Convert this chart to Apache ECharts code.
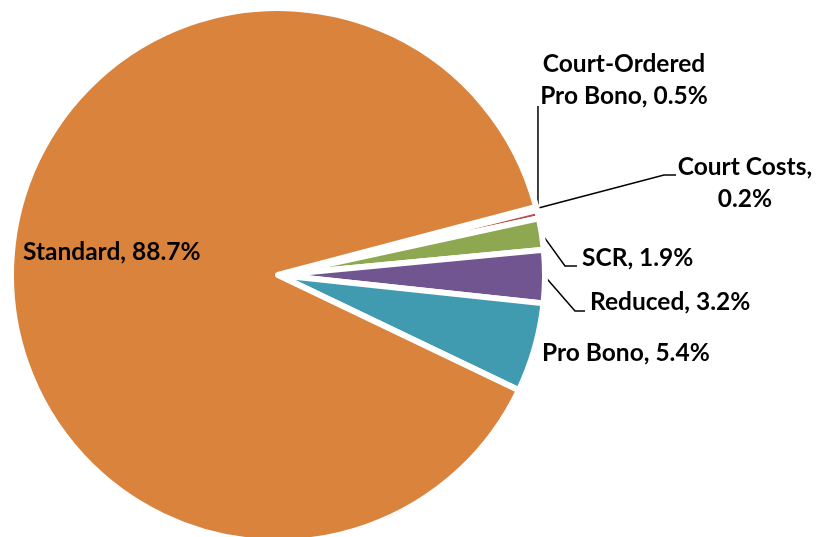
<!DOCTYPE html>
<html>
<head>
<meta charset="utf-8">
<script src="https://cdn.jsdelivr.net/npm/echarts@6/dist/echarts.min.js"></script>
<style>
  html, body { margin: 0; padding: 0; background: #fff; }
  #chart { width: 818px; height: 537px; }
</style>
</head>
<body>
<div id="chart"></div>
<script>
// slices in sheet order, clockwise from the upper edge of the gap
const categories = ['Court Costs', 'Court-Ordered Pro Bono', 'SCR', 'Reduced', 'Pro Bono', 'Standard']
const shares = [0.2, 0.5, 1.9, 3.2, 5.4, 88.7]
const colors = ['#4A76AC', '#BE4B48', '#8DA850', '#705590', '#409BB0', '#D9833D']

// where each label sits and how its leader line bends before reaching it
const labelSpots = [
  { x: 745, y: 183, align: 'center', bend: [[664, 175], [676, 175]] },
  { x: 624, y: 80, align: 'center', bend: 'up' },
  { x: 582, y: 258, align: 'left', bend: [[565, 266], [577, 266]] },
  { x: 590, y: 302, align: 'left', bend: [[575, 311], [585, 311]] },
  { x: 542, y: 353, align: 'left', bend: null },
  { x: 23, y: 252, align: 'left', bend: null }
]

const labelText = (name, value) => {
  const pct = value.toFixed(1) + '%'
  if (name === 'Court Costs') return name + ',\n' + pct
  if (name === 'Court-Ordered Pro Bono') return 'Court-Ordered\nPro Bono, ' + pct
  return name + ', ' + pct
}

const seriesData = categories.map((name, i) => ({
  name: name,
  value: shares[i],
  itemStyle: { color: colors[i] },
  label: name === 'Standard' ? { position: 'inside' } : {},
  labelLine: { show: labelSpots[i].bend !== null }
}))

const chart = echarts.init(document.getElementById('chart'))
chart.setOption({
  animation: false,
  series: [
    {
      type: 'pie',
      center: [278, 275],
      radius: 267,
      startAngle: 14.8,
      clockwise: true,
      avoidLabelOverlap: false,
      data: seriesData,
      itemStyle: { borderColor: '#fff', borderWidth: 6 },
      label: {
        show: true,
        position: 'outside',
        formatter: p => labelText(p.name, p.value),
        fontFamily: 'Lato',
        fontWeight: 'bold',
        fontSize: 24.5,
        lineHeight: 32,
        color: '#000'
      },
      labelLine: {
        show: true,
        length: 10,
        length2: 10,
        lineStyle: { color: '#000', width: 1.5 }
      },
      labelLayout: params => {
        const spot = labelSpots[params.dataIndex]
        const out = { x: spot.x, y: spot.y, align: spot.align, verticalAlign: 'middle' }
        const p0 = params.labelLinePoints && params.labelLinePoints[0]
        if (p0 && spot.bend === 'up') {
          out.labelLinePoints = [p0, [p0[0], 106], [p0[0], 106]]
        } else if (p0 && spot.bend) {
          out.labelLinePoints = [p0, spot.bend[0], spot.bend[1]]
        }
        return out
      },
      emphasis: { disabled: true }
    }
  ]
})
</script>
</body>
</html>
